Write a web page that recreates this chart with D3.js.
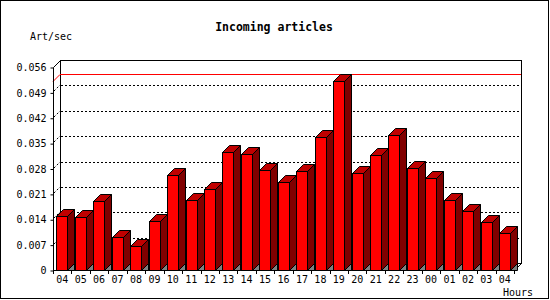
<!DOCTYPE html>
<html>
<head>
<meta charset="utf-8">
<script src="https://cdn.jsdelivr.net/npm/d3@7"></script>
<style>
  body { margin: 0; background: #fff; }
  svg text { font-family: "DejaVu Sans Mono", "Liberation Mono", monospace; font-size: 10px; fill: #000; }
</style>
</head>
<body>
<script>
// data
const hours = ["04","05","06","07","08","09","10","11","12","13","14","15","16",
               "17","18","19","20","21","22","23","00","01","02","03","04"];
const artPerSec = [0.0149, 0.0146, 0.0190, 0.0090, 0.0065, 0.0135, 0.0262, 0.0192, 0.0223,
                   0.0325, 0.0319, 0.0275, 0.0242, 0.0272, 0.0367, 0.0521, 0.0267, 0.0316,
                   0.0372, 0.0281, 0.0253, 0.0192, 0.0162, 0.0132, 0.0101];
const yTicks = [0, 0.007, 0.014, 0.021, 0.028, 0.035, 0.042, 0.049, 0.056];

const width = 550, height = 300;
const depth = 7;      // 3d offset
const barW = 11;

const svg = d3.select("body").append("svg")
    .attr("width", width)
    .attr("height", height);

// frame
svg.append("rect")
    .attr("x", 0.5).attr("y", 0.5)
    .attr("width", 548).attr("height", 298)
    .attr("fill", "#fff").attr("stroke", "#000");

const x = d3.scaleBand()
    .domain(d3.range(hours.length))
    .range([53, 514]);

const y = d3.scaleLinear()
    .domain([0, 0.056])
    .range([270, 67]);

const base = y(0);
const x0 = x.range()[0], x1 = x.range()[1];
const yTop = y(0.056);

// back wall
svg.append("rect")
    .attr("x", x0 + depth + 0.5).attr("y", yTop - depth + 0.5)
    .attr("width", x1 - x0).attr("height", base - yTop)
    .attr("fill", "#fff").attr("stroke", "#000");

// dotted grid on the back wall + short bits on the left wall
const grid = svg.append("g")
    .attr("stroke", "#000")
    .attr("stroke-dasharray", "2,2");
yTicks.slice(1, -1).forEach(v => {
    const yy = Math.round(y(v) - depth) + 0.5;
    grid.append("line")
        .attr("x1", x0 + depth + 1).attr("x2", x1 + depth)
        .attr("y1", yy).attr("y2", yy);
    grid.append("line")
        .attr("x1", x0 + 1).attr("y1", Math.round(y(v)) - 1)
        .attr("x2", x0 + depth).attr("y2", Math.round(y(v)) - depth);
});

// max line
const maxV = d3.max(artPerSec);
const ym = Math.round(y(maxV)) + 0.5;
svg.append("line")
    .attr("x1", x0 + depth).attr("x2", x1 + depth)
    .attr("y1", ym - depth).attr("y2", ym - depth)
    .attr("stroke", "#f00");
svg.append("line")
    .attr("x1", x0).attr("y1", ym)
    .attr("x2", x0 + depth).attr("y2", ym - depth)
    .attr("stroke", "#f00");

// left wall and floor edges
const edges = svg.append("g").attr("stroke", "#000").attr("fill", "none");
edges.append("path")
    .attr("d", `M${x0 + 0.5},${base + 0.5}V${yTop + 0.5}L${x0 + depth + 0.5},${yTop - depth + 0.5}`);
edges.append("path")
    .attr("d", `M${x0 + 0.5},${base + 0.5}H${x1 + 0.5}L${x1 + depth + 0.5},${base - depth + 0.5}`);

// bars
const bars = svg.append("g")
    .selectAll("g")
    .data(artPerSec)
    .enter().append("g")
    .attr("stroke", "#000")
    .attr("stroke-linejoin", "miter");

bars.each(function(d, i) {
    const g = d3.select(this);
    const bx = Math.round(x(i) + 3.5) + 0.5;
    const yt = Math.round(y(d)) + 0.5;
    const yb = base + 0.5;
    // floor shadow
    g.append("path")
        .attr("d", `M${bx + barW},${yb}L${bx + barW + depth},${yb - depth}V${yb}Z`)
        .attr("fill", "#808080");
    // side
    g.append("path")
        .attr("d", `M${bx + barW},${yb}L${bx + barW + depth},${yb - depth}V${yt - depth}L${bx + barW},${yt}Z`)
        .attr("fill", "#800000");
    // top
    g.append("path")
        .attr("d", `M${bx},${yt}L${bx + depth},${yt - depth}H${bx + barW + depth}L${bx + barW},${yt}Z`)
        .attr("fill", "#c00000");
    // front
    g.append("rect")
        .attr("x", bx).attr("y", yt)
        .attr("width", barW).attr("height", yb - yt)
        .attr("fill", "#f00");
});

// y axis
const yAxis = d3.axisLeft(y)
    .tickValues(yTicks)
    .tickSize(3)
    .tickPadding(4)
    .tickFormat(d => d === 0 ? "0" : d3.format(".3f")(d));
svg.append("g")
    .attr("transform", `translate(${x0 + 0.5},0.5)`)
    .call(yAxis)
    .call(g => g.select(".domain").remove())
    .call(g => g.selectAll("text").attr("font-family", null).attr("font-size", null));

// x axis
const xAxis = d3.axisBottom(x)
    .tickSize(0)
    .tickPadding(5)
    .tickFormat(i => hours[i]);
svg.append("g")
    .attr("transform", `translate(0,${base + 0.5})`)
    .call(xAxis)
    .call(g => g.select(".domain").remove())
    .call(g => g.selectAll("text").attr("font-family", null).attr("font-size", null));

// x ticks between bars
svg.append("g")
    .attr("stroke", "#000")
    .selectAll("line")
    .data(d3.range(hours.length + 1))
    .enter().append("line")
    .attr("x1", i => Math.round(x0 + i * x.bandwidth()) + 0.5)
    .attr("x2", i => Math.round(x0 + i * x.bandwidth()) + 0.5)
    .attr("y1", base)
    .attr("y2", base + 4);

// titles
svg.append("text")
    .attr("x", 274).attr("y", 31)
    .attr("text-anchor", "middle")
    .style("font-weight", "bold")
    .style("font-size", "11.5px")
    .text("Incoming articles");

svg.append("text")
    .attr("x", 30).attr("y", 40)
    .text("Art/sec");

svg.append("text")
    .attr("x", 533).attr("y", 296)
    .attr("text-anchor", "end")
    .text("Hours");
</script>
</body>
</html>
